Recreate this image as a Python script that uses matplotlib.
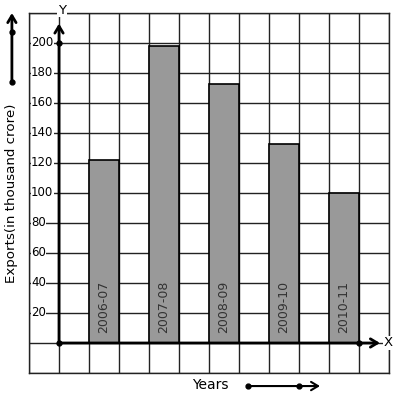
import matplotlib
matplotlib.use("Agg")
import matplotlib.pyplot as plt

years = ["2006-07", "2007-08", "2008-09", "2009-10", "2010-11"]
exports = [122, 198, 173, 133, 100]
bar_left = [1, 3, 5, 7, 9]
y_ticks = [20, 40, 60, 80, 100, 120, 140, 160, 180, 200]

W, H = 397, 399
fig = plt.figure(figsize=(W / 100, H / 100), dpi=100)
# grid area: 12 x 12 cells of 30 px
ax = fig.add_axes([29 / W, (H - 373) / H, 360 / W, 360 / H])
ax.set_xlim(-1, 11)
ax.set_ylim(-20, 220)
ax.set_xticks(range(-1, 12))
ax.set_yticks(range(-20, 221, 20))
ax.tick_params(length=0, labelleft=False, labelbottom=False)
ax.grid(True, color="#222222", lw=1)
ax.set_axisbelow(True)
for s in ax.spines.values():
    s.set_color("#222222")
    s.set_linewidth(1)

ax.bar(bar_left, exports, width=1, align="edge", color="#999999",
       edgecolor="black", lw=1.2, zorder=3)
for x, lab in zip(bar_left, years):
    ax.text(x + 0.5, 6.7, lab, rotation=90, ha="center", va="bottom",
            fontsize=9, color="#333333", zorder=4)

for v in y_ticks:
    ax.text(-1 + 2 / 30, v, str(v), ha="left", va="center", fontsize=8.5,
            bbox=dict(fc="white", ec="none", pad=0.3), zorder=4)

# axes with arrows
arr = dict(arrowstyle="->,head_length=0.5,head_width=0.3", lw=2, color="black",
           shrinkA=0, shrinkB=0)
ax.annotate("", xy=(10.7, 0), xytext=(0, 0), arrowprops=arr, zorder=5,
            annotation_clip=False)
ax.annotate("", xy=(0, 213), xytext=(0, 0), arrowprops=arr, zorder=5,
            annotation_clip=False)
ax.plot([0, 10, 0], [0, 0, 200], "o", color="black", ms=3.5, zorder=6)
ax.text(0.1, 222, "Y", ha="center", va="center", fontsize=9.5,
        bbox=dict(fc="white", ec="none", pad=0.5), zorder=6, clip_on=False)
ax.text(10.97, 0, "X", ha="center", va="center", fontsize=9.5,
        bbox=dict(fc="white", ec="none", pad=0.5), zorder=6, clip_on=False)

# side label and arrow
ax.text(-1.57, 100, "Exports(in thousand crore)", rotation=90, ha="center",
        va="center", fontsize=9.6, clip_on=False)
ax.annotate("", xy=(-1.57, 220), xytext=(-1.57, 174), arrowprops=arr,
            annotation_clip=False)
ax.plot([-1.57, -1.57], [174, 207.3], "o", color="black", ms=3.5,
        clip_on=False)

# bottom label and arrow
ax.text(5.03, -28, "Years", ha="center", va="center", fontsize=10,
        clip_on=False)
ax.annotate("", xy=(8.7, -28.7), xytext=(6.3, -28.7),
            arrowprops=dict(arr, lw=1.5), annotation_clip=False)
ax.plot([6.3, 8.0], [-28.7, -28.7], "o", color="black", ms=3.5,
        clip_on=False)

fig.savefig("out.png", dpi=100)
